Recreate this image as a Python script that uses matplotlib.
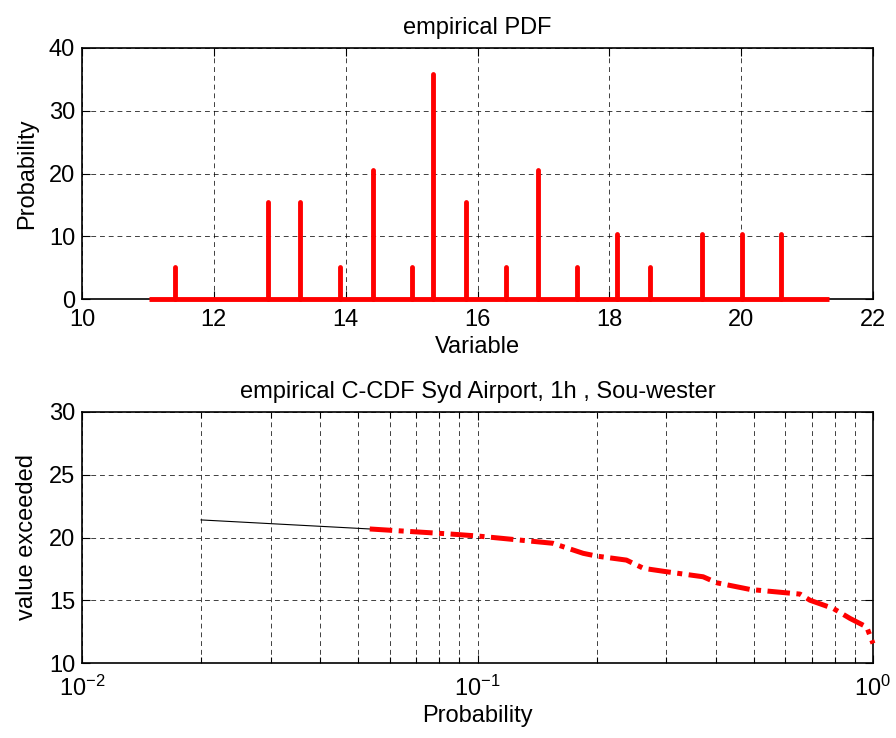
import matplotlib
matplotlib.use("Agg")
import matplotlib.pyplot as plt
from matplotlib.ticker import FixedLocator, FuncFormatter, NullFormatter
import numpy as np

plt.rcParams['font.family'] = ['Liberation Sans', 'DejaVu Sans']
plt.rcParams['mathtext.fontset'] = 'custom'
plt.rcParams['mathtext.rm'] = 'Liberation Sans'
plt.rcParams['mathtext.default'] = 'regular'

# ---- data: empirical PDF ----
pdf_x = [11.41, 12.82, 13.31, 13.91, 14.41, 15.01, 15.32, 15.82,
         16.43, 16.92, 17.51, 18.11, 18.62, 19.41, 20.02, 20.61]
pdf_y = [5.13, 15.4, 15.4, 5.13, 20.5, 5.13, 35.9, 15.4,
         5.13, 20.5, 5.13, 10.3, 5.13, 10.3, 10.3, 10.3]
pdf_range = [11.02, 21.33]

# ---- data: empirical C-CDF ----
tail_p = [0.02, 0.0534]
tail_v = [21.4, 20.68]
ccdf_p = [0.0534, 0.0852, 0.1, 0.155, 0.185, 0.2, 0.238, 0.263, 0.301,
          0.372, 0.403, 0.489, 0.654, 0.693, 0.794, 0.875, 0.964, 1.0]
ccdf_v = [20.68, 20.28, 20.12, 19.54, 18.74, 18.52, 18.2, 17.54, 17.27,
          16.87, 16.39, 15.86, 15.49, 15.0, 14.34, 13.55, 12.87, 11.55]

FS = 17
fig = plt.figure(figsize=(8.96, 7.38), dpi=100)
ax1 = fig.add_axes([82/896, 1-299/738, 791/896, 251/738])
ax2 = fig.add_axes([82/896, 1-663/738, 791/896, 251/738])

grid_kw = dict(color='k', linewidth=0.7, linestyle=(0, (5, 4)), alpha=0.75)

# top
ax1.hlines(0, pdf_range[0], pdf_range[1], color='red', linewidth=3.5, zorder=6, clip_on=False)
ax1.vlines(pdf_x, 0, pdf_y, color='red', linewidth=3.5, zorder=6, capstyle='round', clip_on=False)
ax1.set_xlim(10, 22)
ax1.set_ylim(0, 40)
ax1.set_xticks(np.arange(10, 23, 2))
ax1.set_yticks(np.arange(0, 41, 10))
ax1.grid(True, **grid_kw)
ax1.set_title('empirical PDF', fontsize=FS, pad=10)
ax1.set_xlabel('Variable', fontsize=FS, labelpad=3)
ax1.set_ylabel('Probability', fontsize=FS, labelpad=8)
ax1.tick_params(axis='x', which='both', pad=7.5)

# bottom
ax2.set_xscale('log')
ax2.plot(tail_p, tail_v, color='k', linewidth=0.8, zorder=3)
ax2.plot(ccdf_p, ccdf_v, color='red', linewidth=3.6,
         linestyle=(0, (4.5, 1.3, 1.0, 1.3)), zorder=6, clip_on=False)
ax2.set_xlim(0.01, 1)
ax2.set_ylim(10, 30)
ax2.set_yticks(np.arange(10, 31, 5))
ax2.xaxis.set_major_locator(FixedLocator([0.01, 0.1, 1]))
ax2.xaxis.set_major_formatter(FuncFormatter(lambda v, p: r'$10^{%d}$' % int(round(np.log10(v)))))
minors = [m * 10.0**e for e in (-2, -1) for m in range(2, 10)]
ax2.xaxis.set_minor_locator(FixedLocator(minors))
ax2.xaxis.set_minor_formatter(NullFormatter())
ax2.grid(True, which='both', **grid_kw)
ax2.set_title('empirical C-CDF Syd Airport, 1h , Sou-wester', fontsize=FS, pad=10)
ax2.set_xlabel('Probability', fontsize=FS, labelpad=3)
ax2.set_ylabel('value exceeded', fontsize=FS, labelpad=8)
ax2.tick_params(axis='x', which='both', pad=9)

for ax in (ax1, ax2):
    ax.set_axisbelow(True)
    ax.tick_params(which='both', direction='in', top=True, right=True, labelsize=FS)
    ax.tick_params(axis='y', pad=5)
    ax.tick_params(which='major', length=6, width=0.8)
    ax.tick_params(which='minor', length=4, width=0.8)
    for s in ax.spines.values():
        s.set_linewidth(1.2)
        s.set_zorder(5)

fig.savefig('out.png', dpi=100)
